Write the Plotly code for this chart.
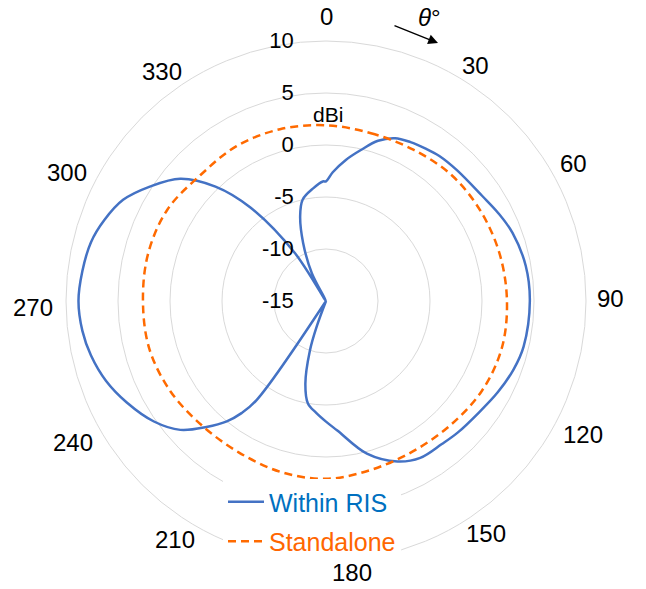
import plotly.graph_objects as go

# Within RIS (angle in degrees, gain in dBi)
ris_theta = [0, 3, 8, 13, 18, 23, 28, 33, 38, 45, 56, 63, 70, 80, 90, 103, 110, 118, 126, 135, 141, 149,
             156, 165, 175, 180, 185, 190, 194, 198, 200, 203, 212, 215, 217, 219.5, 223.5, 228.5, 235,
             243, 250, 257, 263, 270, 277, 284, 290, 296.5, 303, 310, 316, 321, 327, 330.5, 333, 338.5, 343, 347,
             353.5, 358.5, 360]
ris_gain = [-3.5, -2.6, -1.3, -0.1, 1.2, 2.0, 2.3, 2.5, 2.7, 2.8, 3.1, 3.6, 4.1, 4.5, 4.6, 4.5, 4.2, 3.7,
            3.2, 2.9, 2.7, 2.6, 1.9, 0.2, -2.5, -3.4, -4.2, -5.0, -6.8, -10.0, -12.4, -15, -15, -3.4, -1.5,
            0.0, 1.7, 3.7, 5.2, 6.5, 7.5, 8.2, 8.6, 8.8, 8.6, 8.3, 7.7, 6.8, 5.2, 3.3, 0.3, -3.4, -9.5, -15, -12.0,
            -9.0, -6.5, -5.0, -4.1, -3.5, -3.5]

# Standalone
sa_theta = [0, 15, 30, 45, 60, 75, 90, 105, 120, 135, 150, 165, 180, 195, 210, 225, 240, 255, 270, 285,
            300, 315, 330, 345, 360]
sa_gain = [1.9, 1.7, 1.8, 2.1, 2.2, 2.3, 2.4, 2.5, 2.3, 1.9, 1.7, 1.8, 2.1, 2.0, 1.8, 1.9, 2.3, 2.6, 2.6,
           2.7, 2.6, 2.1, 2.2, 2.1, 1.9]

radial_ticks = [-15, -10, -5, 0, 5, 10]
angular_ticks = list(range(0, 360, 30))
angular_labels = [str(v) for v in angular_ticks]

# label placement (pixels), mimicking the original's layout of angle labels
angular_label_pos = [(326, 16), (475, 66), (573, 164), (610, 298), (583, 434), (486, 533),
                     (352, 572), (175, 539), (73, 442), (33, 307), (67, 172), (162, 71)]

FONT = "Liberation Sans, Arial, sans-serif"
W, H = 646, 589


def px(x):
    return x / W


def py(y):
    return 1 - y / H


fig = go.Figure()
fig.add_trace(go.Scatterpolar(
    r=ris_gain, theta=ris_theta, mode="lines", legendgroup="a",
    name="<span style='color:#0070C0'>Within RIS</span>",
    line=dict(color="#4472C4", width=2.5, shape="spline", smoothing=1.0),
))
fig.add_trace(go.Scatterpolar(
    r=sa_gain, theta=sa_theta, mode="lines", legendgroup="b",
    name="<span style='color:#FF6600'>Standalone</span>",
    line=dict(color="#FF6A00", width=2.5, dash="8px,5px", shape="spline", smoothing=1.0),
))

annotations = [
    dict(text="dBi", x=px(328), y=py(114), xref="paper", yref="paper", showarrow=False,
         xanchor="center", yanchor="middle",
         font=dict(size=21, family=FONT, color="black")),
    dict(text="<i>θ</i>°", x=px(429), y=py(18), xref="paper", yref="paper", showarrow=False,
         xanchor="center", yanchor="middle",
         font=dict(size=24, family=FONT, color="black")),
    dict(text="", x=px(438), y=py(43), ax=393 - 438, ay=25 - 43, xref="paper", yref="paper",
         axref="pixel", ayref="pixel", showarrow=True, arrowhead=2,
         arrowsize=1.4, arrowwidth=1.4, arrowcolor="black"),
]
for lab, (lx, ly) in zip(angular_labels, angular_label_pos):
    annotations.append(dict(text=lab, x=px(lx), y=py(ly), xref="paper", yref="paper",
                            showarrow=False, xanchor="center", yanchor="middle",
                            font=dict(size=24, family=FONT, color="black")))

fig.update_layout(
    width=W, height=H,
    margin=dict(l=0, r=0, t=0, b=0, autoexpand=False),
    paper_bgcolor="white",
    plot_bgcolor="white",
    font=dict(family=FONT, color="black"),
    showlegend=True,
    legend=dict(x=px(223), y=py(479), xanchor="left", yanchor="top", bgcolor="white",
                font=dict(size=25, family=FONT), tracegroupgap=4, itemwidth=36),
    polar=dict(
        bgcolor="white",
        domain=dict(x=[px(66), px(586)], y=[py(561), py(41)]),
        radialaxis=dict(range=[-15, 10], tickvals=radial_ticks, ticktext=[str(v) for v in radial_ticks],
                        angle=90, tickangle=90, showline=False, ticks="outside", ticklen=24,
                        tickcolor="rgba(0,0,0,0)",
                        gridcolor="#d9d9d9", gridwidth=1, side="counterclockwise",
                        tickfont=dict(size=22, family=FONT, color="black")),
        angularaxis=dict(rotation=90, direction="clockwise", tickvals=angular_ticks,
                         ticktext=angular_labels, showgrid=False, showticklabels=False,
                         showline=True, linecolor="#d9d9d9", linewidth=1, ticks=""),
    ),
    annotations=annotations,
)

fig.write_html("out.html", config={"displayModeBar": False},
               post_script="document.body.style.margin='0';")
